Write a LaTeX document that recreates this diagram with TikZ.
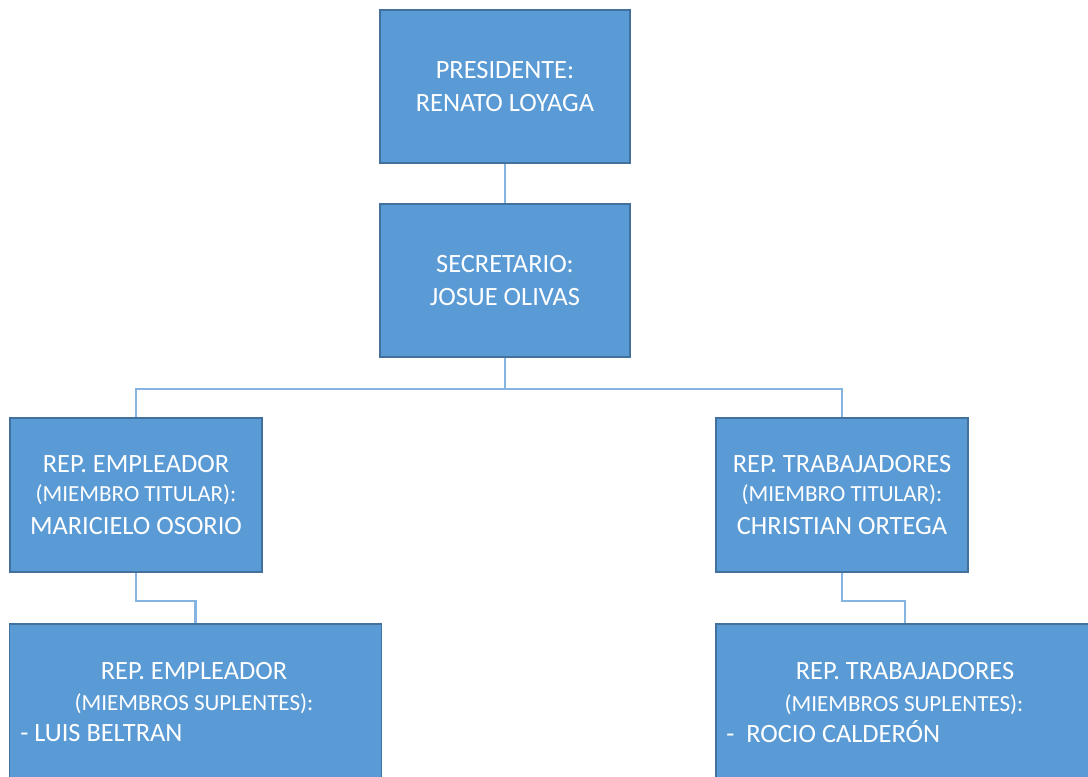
\documentclass[tikz,border=0pt]{standalone}
\usepackage{fontspec}
\setmainfont{Carlito}
\definecolor{boxfill}{HTML}{5B9BD5}
\definecolor{boxline}{HTML}{41719C}
\definecolor{conn}{HTML}{86B4E0}
\begin{document}
\begin{tikzpicture}[x=0.75pt,y=-0.75pt,
  box/.style={rectangle,draw=boxline,line width=1.1pt,fill=boxfill,inner sep=0pt},
  link/.style={draw=conn,line width=1.7pt},
  big/.style={text=white,font=\fontsize{19.8}{22}\selectfont,anchor=base,inner sep=0pt},
  small/.style={text=white,font=\fontsize{17.3}{18}\selectfont,anchor=base,inner sep=0pt}]
\useasboundingbox (0,0) rectangle (1088,776);
\clip (0,0) rectangle (1088,776);
% boxes
\node[box,minimum width=187.5pt,minimum height=114.75pt] (pres) at (505,86.5) {};
\node[box,minimum width=187.5pt,minimum height=114.75pt] (sec) at (505,280.5) {};
\node[box,minimum width=189pt,minimum height=115.5pt] (lm) at (136,495) {};
\node[box,minimum width=189pt,minimum height=115.5pt] (rm) at (842,495) {};
\node[box,minimum width=279pt,minimum height=127.5pt] (bl) at (195.5,709) {};
\node[box,minimum width=283.5pt,minimum height=127.5pt] (br) at (905,709) {};
% connectors
\draw[link] (pres.south) -- (sec.north);
\draw[link] (sec.south) -- ++(0,31) -| (lm.north);
\draw[link] (sec.south) -- ++(0,31) -| (rm.north);
\draw[link] (lm.south) -- ++(0,28) -| (bl.north);
\draw[link] (rm.south) -- ++(0,28) -| (br.north);
% texts
\node[big] (p1) at (505,78.3) {PRESIDENTE:};
\node[big] (p2) at (505,111) {RENATO LOYAGA};
\node[big] (s1) at (505,272.3) {SECRETARIO:};
\node[big] (s2) at (505,305) {JOSUE OLIVAS};
\node[big] (l1) at (136,472) {REP. EMPLEADOR};
\node[small] (l2) at (136,501) {(MIEMBRO TITULAR):};
\node[big] (l3) at (136,534) {MARICIELO OSORIO};
\node[big] (r1) at (842,472) {REP. TRABAJADORES};
\node[small] (r2) at (842,501) {(MIEMBRO TITULAR):};
\node[big] (r3) at (842,534) {CHRISTIAN ORTEGA};
\node[big] (b1) at (194,679) {REP. EMPLEADOR};
\node[small] (b2) at (194,710) {(MIEMBROS SUPLENTES):};
\node[big,anchor=base west] (b3) at (20,741) {- LUIS BELTRAN};
\node[big] (c1) at (905,679) {REP. TRABAJADORES};
\node[small] (c2) at (904,711) {(MIEMBROS SUPLENTES):};
\node[big,anchor=base west] (c3) at (726,742) {-\ \ ROCIO CALDERÓN};
\end{tikzpicture}
\end{document}
